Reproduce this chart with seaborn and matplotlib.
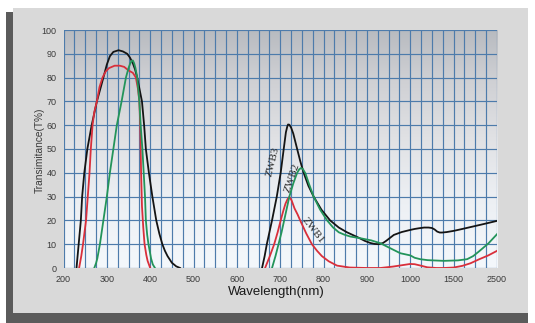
import numpy as np
import pandas as pd
import matplotlib
matplotlib.use("Agg")
import matplotlib.pyplot as plt
import seaborn as sns
from matplotlib.patches import Rectangle
from matplotlib.ticker import FixedLocator, FixedFormatter, NullFormatter

# ---------------- data ----------------
tick_wavelengths = [200, 300, 400, 500, 600, 700, 800, 900, 1000, 1500, 2500]
tick_labels = ["200", "300", "400", "500", "600", "700", "800", "900", "1000", "1500", "2500"]
y_ticks = [0, 10, 20, 30, 40, 50, 60, 70, 80, 90, 100]

zwb3_uv_wl = [230, 235, 240, 243, 248, 255, 265, 277, 292, 300, 307, 315, 327, 337, 347, 353, 360, 365,
              370, 375, 381, 386, 390, 397, 405, 414, 421, 428, 434, 440, 450, 460, 469]
zwb3_uv_t = [0, 10, 20, 30, 40, 50, 60, 70, 80, 85.5, 89, 90.8, 91.5, 91, 90, 88.5, 86, 83.5,
             80, 75.5, 70, 60, 50, 40, 30, 20, 14.5, 10, 7.2, 5, 2.2, 0.7, 0]
zwb3_ir_wl = [658, 664, 669, 675, 681, 692, 701, 708, 713, 716, 718, 721, 725, 730, 739, 746, 754, 765, 777,
              795, 815, 835, 854, 880, 895, 908, 918, 927, 937, 945, 962, 980, 1000, 1050, 1100, 1160, 1211,
              1250, 1280, 1310, 1340, 1367, 1420, 1500, 1700, 1890, 2200, 2500]
zwb3_ir_t = [0, 5, 10, 15, 20, 30, 40, 50, 57, 59.3, 60.3, 60.2, 59, 56.5, 50, 45, 40, 34.5, 30,
             24.5, 20, 17, 15, 12.8, 11.4, 10.5, 10.1, 10, 10.5, 11.5, 13.9, 15.1, 16, 16.4, 16.7, 17, 17,
             16.8, 16.2, 15.3, 14.9, 14.9, 15.1, 15.6, 16.4, 17.2, 18.5, 19.8]

zwb1_uv_wl = [236, 241, 245, 252, 256, 260, 263, 267, 271, 277, 283, 290, 297, 305, 318, 330, 340, 350, 360,
              367, 372, 375, 377, 378, 379, 381, 384, 387, 391, 394, 400]
zwb1_uv_t = [0, 5, 10, 20, 30, 40, 50, 60, 65.5, 70, 76, 80, 82.5, 84, 85, 85, 84.5, 83, 82,
             80, 75, 70, 60, 50, 40, 26, 17, 10, 5.5, 3, 0]
zwb1_ir_wl = [665, 676, 686, 694, 701, 707, 712, 717, 721, 726, 733, 740, 746, 760, 773, 785, 796, 812, 831,
              860, 900, 931, 960, 1000, 1050, 1120, 1195, 1300, 1385, 1500, 1700, 1890, 2080, 2300, 2500]
zwb1_ir_t = [0, 5, 10, 15, 20, 24, 27, 29, 29.8, 28.5, 25, 22.5, 20, 14.5, 10, 7.2, 5, 2.8, 1,
             0.2, 0, 0, 0.6, 1.7, 1.6, 1, 0.3, 0, 0, 0.2, 0.9, 2, 3.6, 5.3, 7.2]

zwb2_uv_wl = [271, 275, 278, 284, 292, 300, 307, 315, 323, 334, 344, 350, 354, 357, 360, 363, 366, 370,
              375, 378, 382, 385, 388, 390, 393, 396, 402, 406, 411]
zwb2_uv_t = [0, 2, 4, 10, 20, 30, 40, 50, 60, 70, 80, 84, 86, 87, 87.2, 86, 84, 80,
             70, 60, 50, 40, 30, 20, 14, 10, 4, 1.5, 0]
zwb2_ir_wl = [681, 689, 696, 703, 709, 715, 721, 730, 739, 744, 748, 752, 758, 766, 777, 792, 808, 822, 835,
              848, 862, 885, 910, 931, 955, 977, 1000, 1050, 1115, 1200, 1385, 1600, 1810, 1950, 2080, 2300, 2500]
zwb2_ir_t = [0, 5, 10, 15, 20, 25, 30, 35.5, 40, 41.5, 42, 41.6, 39.8, 35.5, 30, 24.5, 20, 17, 15,
             14, 13.2, 12.5, 11.6, 10.4, 8.2, 6.2, 5.3, 4.3, 3.7, 3.3, 3, 3.2, 3.7, 5, 6.9, 10.3, 14.2]

series_names = ["ZWB1", "ZWB2", "ZWB3"]
series_colors = ["#d92f3b", "#23945a", "#141414"]

segments = [
    ("ZWB3", "ZWB3-UV", zwb3_uv_wl, zwb3_uv_t),
    ("ZWB3", "ZWB3-IR", zwb3_ir_wl, zwb3_ir_t),
    ("ZWB1", "ZWB1-UV", zwb1_uv_wl, zwb1_uv_t),
    ("ZWB1", "ZWB1-IR", zwb1_ir_wl, zwb1_ir_t),
    ("ZWB2", "ZWB2-UV", zwb2_uv_wl, zwb2_uv_t),
    ("ZWB2", "ZWB2-IR", zwb2_ir_wl, zwb2_ir_t),
]
frames = []
for name, seg, wl, t in segments:
    frames.append(pd.DataFrame({"wavelength": wl, "T": t, "filter": name, "segment": seg}))
df = pd.concat(frames, ignore_index=True)

# curve labels: (text, wavelength, T, rotation)
label_text = ["ZWB3", "ZWB2", "ZWB1"]
label_wl = [683, 726, 775]
label_t = [44.5, 37.8, 15.7]
label_rot = [76, 71, -52]

# ---------------- figure ----------------
W, H = 535, 323
fig = plt.figure(figsize=(W / 100, H / 100), dpi=100, facecolor="white")

def px_rect(x0, y0, x1, y1, color):
    fig.patches.append(Rectangle((x0 / W, 1 - y1 / H), (x1 - x0) / W, (y1 - y0) / H,
                                 transform=fig.transFigure, facecolor=color,
                                 edgecolor="none", zorder=-10))

px_rect(6, 12, 13, 323, "#5b5b5b")
px_rect(6, 313, 528, 323, "#5b5b5b")
px_rect(13, 8, 528, 313, "#d9d9d9")

ax_left, ax_right, ax_top, ax_bottom = 63.5, 497, 30, 268
pos = [ax_left / W, 1 - ax_bottom / H, (ax_right - ax_left) / W, (ax_bottom - ax_top) / H]

# background gradient
bg = fig.add_axes(pos, zorder=0)
stops_y = np.array([0.0, 0.3, 0.55, 0.8, 1.0])
stops_c = np.array([[244, 248, 252], [236, 239, 243], [224, 225, 228], [206, 207, 211], [184, 187, 192]]) / 255
yy = np.linspace(0, 1, 256)
grad = np.stack([np.interp(yy, stops_y, stops_c[:, k]) for k in range(3)], axis=-1)[::-1][:, None, :]
grad = np.repeat(grad, 4, axis=1)
bg.imshow(grad, aspect="auto", extent=[0, 1, 0, 1], interpolation="bilinear")
bg.set_axis_off()

ax = fig.add_axes(pos, zorder=1)
ax.set_facecolor("none")

positions = np.arange(len(tick_wavelengths), dtype=float)
wl_ext = np.concatenate([[-800.0], np.array(tick_wavelengths, float), [12500.0]])
pos_ext = np.concatenate([[-10.0], positions, [20.0]])

def fwd(w):
    return np.interp(w, wl_ext, pos_ext)

def inv(p):
    return np.interp(p, pos_ext, wl_ext)

ax.set_xscale("function", functions=(fwd, inv))

sns.lineplot(data=df, x="wavelength", y="T", hue="filter", units="segment",
             estimator=None, sort=False, palette=dict(zip(series_names, series_colors)),
             linewidth=1.3, legend=False, ax=ax, zorder=3)

ax.set_xlim(tick_wavelengths[0], tick_wavelengths[-1])
ax.set_ylim(0, 100)

ax.xaxis.set_major_locator(FixedLocator(tick_wavelengths))
ax.xaxis.set_major_formatter(FixedFormatter(tick_labels))
minor_x = inv(np.arange(0, positions[-1] + 0.001, 0.25))
ax.xaxis.set_minor_locator(FixedLocator(minor_x))
ax.xaxis.set_minor_formatter(NullFormatter())
ax.yaxis.set_major_locator(FixedLocator(y_ticks))

grid_c = "#4d7bab"
ax.grid(True, which="both", axis="x", color=grid_c, linewidth=0.85)
ax.grid(True, which="major", axis="y", color=grid_c, linewidth=0.85)
ax.set_axisbelow(True)
for s in ax.spines.values():
    s.set_visible(False)

ax.tick_params(axis="both", which="both", length=0, labelsize=6.5, labelcolor="#3a3a3a")
ax.tick_params(axis="x", pad=5)
ax.tick_params(axis="y", pad=5)
for lab in ax.get_xticklabels() + ax.get_yticklabels():
    lab.set_fontfamily("Liberation Sans")

ax.set_xlabel("Wavelength(nm)", fontsize=9.5, color="#1a1a1a", family="Liberation Sans")
ax.set_ylabel("Transimitance(T%)", fontsize=7.3, color="#3a3a3a", family="Liberation Sans")
ax.xaxis.set_label_coords((276 - ax_left) / (ax_right - ax_left), (ax_bottom - 286) / (ax_bottom - ax_top))
ax.yaxis.set_label_coords((45 - ax_left) / (ax_right - ax_left), 0.496)

for txt, w, t, r in zip(label_text, label_wl, label_t, label_rot):
    ax.text(w, t, txt, rotation=r, ha="center", va="center", fontsize=8,
            family="Liberation Serif", color="#2a2a2a", zorder=4)

fig.savefig("out.png", dpi=100, facecolor="white")
